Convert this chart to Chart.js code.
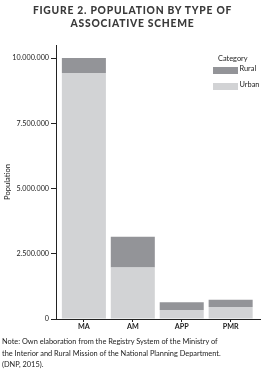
<!DOCTYPE html>
<html><head><meta charset="utf-8">
<script src="https://cdn.jsdelivr.net/npm/chart.js@4"></script>
<style>
html,body{margin:0;padding:0;background:#fff;}
#wrap{position:relative;width:265px;height:378px;overflow:hidden;font-family:Lato,"Open Sans",sans-serif;}
#title{position:absolute;top:4px;left:0;width:265px;text-align:center;font-weight:900;font-size:10.3px;line-height:13px;letter-spacing:0.75px;color:#3a3a3a;}
#cv{position:absolute;left:0;top:0;}
#note{position:absolute;left:2px;top:336px;font-size:7.4px;line-height:11.6px;color:#222;}
.lg{position:absolute;font-size:7.4px;color:#222;}
.sw{position:absolute;width:25px;height:7px;}
</style></head><body>
<div id="wrap">
<canvas id="cv" width="265" height="378"></canvas>
<div id="title">FIGURE 2. POPULATION BY TYPE OF<br>ASSOCIATIVE SCHEME</div>
<div class="lg" style="left:218px;top:54px;">Category</div>
<div class="sw" id="sw0" style="left:213px;top:67px;"></div>
<div class="lg" id="lb0" style="left:239.5px;top:64px;"></div>
<div class="sw" id="sw1" style="left:213px;top:83px;"></div>
<div class="lg" id="lb1" style="left:239.5px;top:80px;"></div>
<div id="note">Note: Own elaboration from the Registry System of the Ministry of<br>the Interior and Rural Mission of the National Planning Department.<br>(DNP, 2015).</div>
</div>
<script>
const categories = ["MA", "AM", "APP", "PMR"];
const seriesNames = ["Rural", "Urban"];
const urban = [9430000, 1970000, 345000, 460000];
const rural = [570000, 1180000, 300000, 280000];
const yTicks = [0, 2500000, 5000000, 7500000, 10000000];
const colors = {Rural: "#939498", Urban: "#d2d3d5"};

function fmt(v){ return String(v).replace(/\B(?=(\d{3})+(?!\d))/g, "."); }

document.getElementById("sw0").style.background = colors.Rural;
document.getElementById("sw1").style.background = colors.Urban;
document.getElementById("lb0").textContent = seriesNames[0];
document.getElementById("lb1").textContent = seriesNames[1];

const toPts = arr => arr.map((v,i)=>({x:i, y:v}));
const tickFont = {family:"Lato", size:7.2};
new Chart(document.getElementById("cv"), {
  type: "bar",
  data: {
    datasets: [
      {label:"Urban", data: toPts(urban), backgroundColor: colors.Urban, barPercentage:0.9, categoryPercentage:1},
      {label:"Rural", data: toPts(rural), backgroundColor: colors.Rural, barPercentage:0.9, categoryPercentage:1}
    ]
  },
  options: {
    responsive:false, animation:false, devicePixelRatio:1,
    layout:{padding:{top:45,right:5,left:0,bottom:0}},
    plugins:{legend:{display:false}, tooltip:{enabled:false}},
    scales:{
      x:{
        type:"linear", stacked:true, min:-0.57, max:3.6, offset:false,
        afterBuildTicks: s => { s.ticks = categories.map((c,i)=>({value:i})); },
        afterFit: s => { s.height = 59; },
        border:{display:true, color:"#222", width:1},
        grid:{display:true, drawOnChartArea:false, drawTicks:true, tickLength:3, color:"#222", offset:false},
        ticks:{callback:(v)=>categories[v] ?? "", color:"#222", font:{family:"Lato", size:7.2, weight:"bold"}, padding:0, maxRotation:0, autoSkip:false}
      },
      y:{
        stacked:true, min:0, max:10500000,
        afterBuildTicks: s => { s.ticks = yTicks.map(v=>({value:v})); },
        afterFit: s => { s.width = 56; },
        border:{display:true, color:"#222", width:1},
        grid:{display:true, drawOnChartArea:false, drawTicks:true, tickLength:5, color:"#222"},
        ticks:{callback:v=>fmt(v), color:"#222", font:tickFont, padding:2},
        title:{display:true, text:"Population", color:"#222", font:{family:"Lato", size:7.6}, padding:{top:3,bottom:0}}
      }
    }
  }
});
</script>
</body></html>
